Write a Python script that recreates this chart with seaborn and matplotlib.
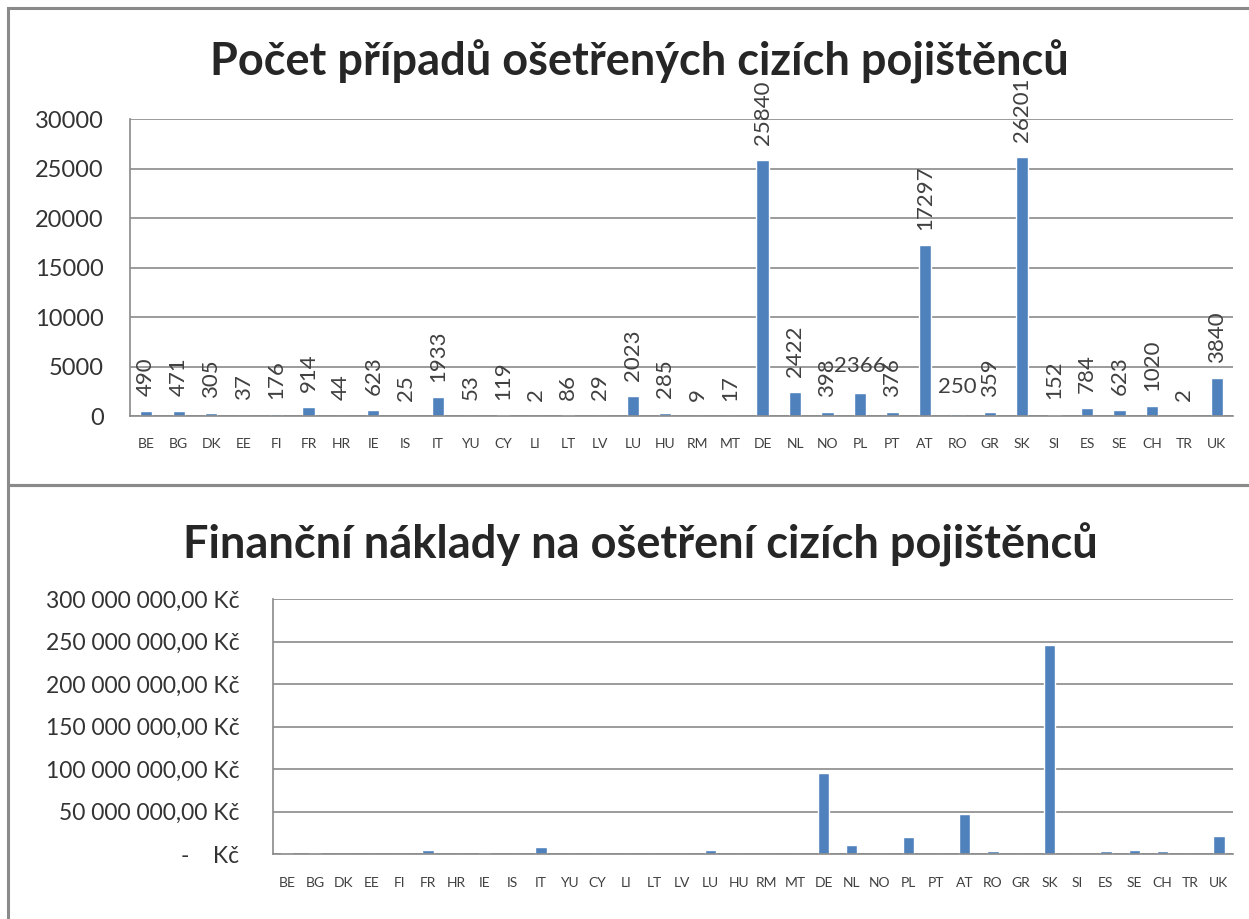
import matplotlib.pyplot as plt
import matplotlib.ticker as mticker
from matplotlib.patches import Rectangle
import numpy as np
import pandas as pd
import seaborn as sns

staty = ['BE', 'BG', 'DK', 'EE', 'FI', 'FR', 'HR', 'IE', 'IS', 'IT', 'YU', 'CY',
         'LI', 'LT', 'LV', 'LU', 'HU', 'RM', 'MT', 'DE', 'NL', 'NO', 'PL', 'PT',
         'AT', 'RO', 'GR', 'SK', 'SI', 'ES', 'SE', 'CH', 'TR', 'UK']
pripady = [490, 471, 305, 37, 176, 914, 44, 623, 25, 1933, 53, 119,
           2, 86, 29, 2023, 285, 9, 17, 25840, 2422, 398, 2366, 376,
           17297, 250, 359, 26201, 152, 784, 623, 1020, 2, 3840]
# naklady v Kc, odhadnuto z grafu
naklady = [2.0e6, 2.0e6, 0.5e6, 0.1e6, 0.5e6, 4.5e6, 0.1e6, 1.2e6, 0.1e6, 8.0e6, 0.2e6, 0.3e6,
           0.0, 0.2e6, 0.1e6, 4.5e6, 0.8e6, 0.0, 0.0, 95e6, 10.5e6, 0.8e6, 20e6, 0.8e6,
           47e6, 3.5e6, 0.5e6, 246e6, 0.5e6, 3.5e6, 5.0e6, 3.5e6, 0.0, 21e6]
vodorovne_popisky = ['PL', 'RO']

df = pd.DataFrame({'stat': staty, 'pripady': pripady, 'naklady': naklady})

sns.set_theme(style='white')
plt.rcParams['font.family'] = ['Lato', 'DejaVu Sans']

modra = '#4F81BD'
seda = '#8a8a8a'

fig = plt.figure(figsize=(12.49, 9.19), dpi=100)
ax1 = fig.add_axes([0.1041, 0.5473, 0.8831, 0.3229])
ax2 = fig.add_axes([0.2183, 0.0704, 0.7689, 0.2778])

sns.barplot(data=df, x='stat', y='pripady', color=modra, saturation=1, width=0.38, ax=ax1)
sns.barplot(data=df, x='stat', y='naklady', color=modra, saturation=1, width=0.40, ax=ax2)

for ax in (ax1, ax2):
    ax.set_xlim(-0.5, len(staty) - 0.5)
    ax.set_xlabel('')
    ax.set_ylabel('')
    ax.grid(axis='y', color=seda, linewidth=1.2)
    ax.set_axisbelow(True)
    for s in ('top', 'right'):
        ax.spines[s].set_visible(False)
    for s in ('left', 'bottom'):
        ax.spines[s].set_color(seda)
        ax.spines[s].set_linewidth(1.2)
    ax.set_xticks(np.arange(-0.5, len(staty), 1), minor=True)
    ax.tick_params(axis='x', which='major', length=0, labelsize=10, labelcolor='#404040', pad=16)
    ax.tick_params(axis='x', which='minor', length=4, width=1, color=seda, direction='out')
    ax.tick_params(axis='y', length=7, width=1, color=seda, direction='out', labelcolor='#333333')

ax1.set_ylim(0, 30000)
ax1.yaxis.set_major_locator(mticker.MultipleLocator(5000))
ax1.tick_params(axis='y', labelsize=17, pad=12)

ax2.set_ylim(0, 300e6)
ax2.yaxis.set_major_locator(mticker.MultipleLocator(50e6))
ax2.yaxis.set_major_formatter(mticker.FuncFormatter(
    lambda v, p: '-    Kč' if v == 0 else f'{v:,.2f} Kč'.replace(',', ' ').replace('.', ',')))
ax2.tick_params(axis='y', labelsize=16.5, pad=17)

# popisky hodnot nad sloupci
for bar, stat, hodnota in zip(ax1.patches, staty, pripady):
    x = bar.get_x() + bar.get_width() / 2
    y = bar.get_height()
    if stat in vodorovne_popisky:
        ax1.annotate(str(hodnota), (x, y), xytext=(0, 19), textcoords='offset points',
                     ha='center', va='center', fontsize=16, color='#404040')
    else:
        ax1.annotate(str(hodnota), (x, y), xytext=(0, 11), textcoords='offset points',
                     ha='center', va='bottom', rotation=90, fontsize=16, color='#404040',
                     annotation_clip=False)

fig.text(0.512, 0.9325, 'Počet případů ošetřených cizích pojištěnců',
         ha='center', va='center', fontsize=32.5, fontweight='bold')
fig.text(0.513, 0.407, 'Finanční náklady na ošetření cizích pojištěnců',
         ha='center', va='center', fontsize=32.5, fontweight='bold')

# ramecky grafu
fig.add_artist(Rectangle((0.0064, 0.4723), 1.1, 0.519, transform=fig.transFigure,
                         fill=False, edgecolor=seda, linewidth=2.2))
fig.add_artist(Rectangle((0.0064, -0.05), 1.1, 0.5223, transform=fig.transFigure,
                         fill=False, edgecolor=seda, linewidth=2.2))

plt.savefig('out.png', dpi=100)
plt.close()
